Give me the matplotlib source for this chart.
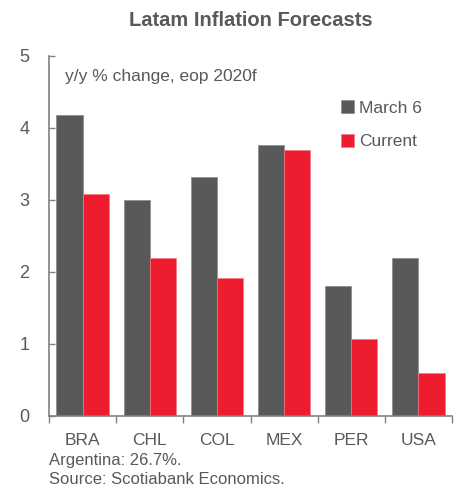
import matplotlib
matplotlib.use("Agg")
import matplotlib.pyplot as plt
import numpy as np

plt.rcParams['font.family'] = ['Liberation Sans', 'DejaVu Sans']

countries = ['BRA', 'CHL', 'COL', 'MEX', 'PER', 'USA']
march6 = [4.18, 3.0, 3.32, 3.77, 1.80, 2.19]
current = [3.08, 2.19, 1.91, 3.70, 1.07, 0.60]

grey = '#595959'
red = '#ED1C2E'
txt = '#595959'

fig = plt.figure(figsize=(4.61, 4.93), dpi=100)
ax = fig.add_axes([49/461, 1-416/493, 403/461, 360/493])

x = np.arange(len(countries))
w = 0.39
ax.bar(x - w/2, march6, w, color=grey, edgecolor='#8a8a8a', linewidth=0.5, label='March 6')
ax.bar(x + w/2, current, w, color=red, edgecolor='#f27a85', linewidth=0.5, label='Current')

ax.set_xlim(-0.5, len(countries) - 0.5)
ax.set_ylim(0, 5)
ax.set_yticks([0, 1, 2, 3, 4, 5])
ax.set_xticks(np.arange(len(countries) + 1) - 0.5)
ax.set_xticklabels([])
ax.set_xticks(x, minor=True)
ax.set_xticklabels(countries, minor=True)
ax.tick_params(axis='x', which='major', direction='out', length=5, color='#808080', width=1)
ax.tick_params(axis='x', which='minor', length=0, pad=12, labelsize=12.5, labelcolor=txt)
ax.tick_params(axis='y', direction='in', length=4, color='#808080', width=1,
               labelsize=13, labelcolor=txt, pad=14)
for s in ['top', 'right']:
    ax.spines[s].set_visible(False)
for s in ['left', 'bottom']:
    ax.spines[s].set_color('#808080')
    ax.spines[s].set_linewidth(1.2)

ax.text(0.04, 0.965, 'y/y % change, eop 2020f', transform=ax.transAxes,
        fontsize=12.5, color=txt, va='top', ha='left')
leg = ax.legend(loc='upper left', bbox_to_anchor=(0.685, 0.92), frameon=False,
                fontsize=12.5, handlelength=0.75, handleheight=0.75,
                handletextpad=0.3, labelspacing=1.05)
for t in leg.get_texts():
    t.set_color(txt)

fig.text(251/461, 1-20/493, 'Latam Inflation Forecasts', ha='center', va='center',
         fontsize=14.5, fontweight='bold', color=txt)
fig.text(49/461, 1-460/493, 'Argentina: 26.7%.', ha='left', va='center',
         fontsize=12, color=txt)
fig.text(49/461, 1-480/493, 'Source: Scotiabank Economics.', ha='left', va='center',
         fontsize=12, color=txt)

fig.savefig('out.png', dpi=100)
